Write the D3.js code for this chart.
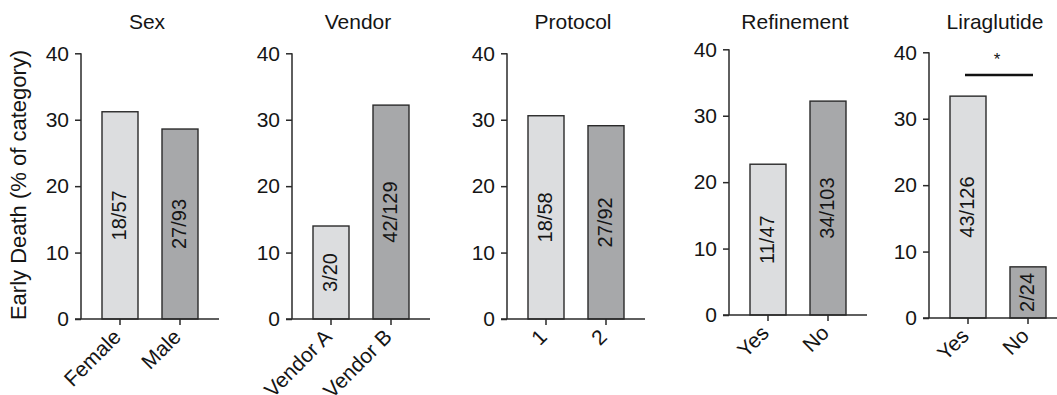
<!DOCTYPE html>
<html>
<head>
<meta charset="utf-8">
<script src="https://cdn.jsdelivr.net/npm/d3@7"></script>
<style>
  html, body { margin: 0; padding: 0; background: #fff; }
  svg { display: block; }
  text { font-family: "Liberation Sans", Arial, Helvetica, sans-serif; fill: #151515; }
</style>
</head>
<body>
<svg id="chart" width="1057" height="395"></svg>
<script>
// ---- data ----
const titles = ["Sex", "Vendor", "Protocol", "Refinement", "Liraglutide"];
const categories = [
  ["Female", "Male"],
  ["Vendor A", "Vendor B"],
  ["1", "2"],
  ["Yes", "No"],
  ["Yes", "No"]
];
const values = [
  [31.2, 28.6],
  [14.0, 32.2],
  [30.6, 29.1],
  [22.7, 32.2],
  [33.4, 7.7]
];
const barLabels = [
  ["18/57", "27/93"],
  ["3/20", "42/129"],
  ["18/58", "27/92"],
  ["11/47", "34/103"],
  ["43/126", "2/24"]
];
const yTicks = [0, 10, 20, 30, 40];
const yLabel = "Early Death (% of category)";
const sigPanel = 4;
const sigLevel = 36.6;
const sigText = "*";

// ---- layout (kept apart from data) ----
const panelLeft = [81, 292, 507, 729, 929];
const panelTop = [53.3, 53.3, 53.3, 49.3, 52.3];
const plotW = 138, plotH = 265.7;
const fills = ["#dcdddf", "#a7a8aa"];
const ink = "#2a2a2a";
const fs = 21;

const svg = d3.select("#chart");

titles.forEach((title, i) => {
  const g = svg.append("g").attr("transform", `translate(${panelLeft[i]},${panelTop[i]})`);
  const x = d3.scaleBand().domain(categories[i]).range([0, plotW]).paddingInner(0.4).paddingOuter(0.35);
  const y = d3.scaleLinear().domain([0, 40]).range([plotH, 0]);

  // bars
  const data = categories[i].map((c, j) => ({ c, v: values[i][j], lab: barLabels[i][j], j }));
  g.selectAll("rect.bar").data(data).enter().append("rect")
    .attr("class", "bar")
    .attr("x", d => x(d.c))
    .attr("y", d => y(d.v))
    .attr("width", x.bandwidth())
    .attr("height", d => y(0) - y(d.v))
    .attr("fill", d => fills[d.j])
    .attr("stroke", ink)
    .attr("stroke-width", 1.4);

  // in-bar labels
  g.selectAll("text.blab").data(data).enter().append("text")
    .attr("class", "blab")
    .attr("transform", d => `translate(${x(d.c) + x.bandwidth() / 2 - 1},${(y(d.v) + y(0)) / 2}) rotate(-90)`)
    .attr("text-anchor", "middle")
    .attr("dy", "0.35em")
    .style("font-size", "20px")
    .text(d => d.lab);

  // y axis
  const ya = d3.axisLeft(y).tickValues(yTicks).tickSize(6).tickPadding(6).tickFormat(d3.format("d"));
  const yg = g.append("g").call(ya);
  yg.select(".domain").attr("stroke", ink).attr("stroke-width", 1.5).attr("d", `M0,${plotH}V0`);
  yg.selectAll(".tick line").attr("stroke", ink).attr("stroke-width", 1.5);
  yg.selectAll(".tick text").style("font-size", fs + "px").attr("fill", "#151515").style("font-family", "Liberation Sans, Arial, sans-serif");

  // x axis
  const xa = d3.axisBottom(x).tickSize(6).tickSizeOuter(0);
  const xg = g.append("g").attr("transform", `translate(0,${plotH})`).call(xa);
  xg.select(".domain").attr("stroke", ink).attr("stroke-width", 1.5).attr("d", `M-6,0H${plotW}`);
  xg.selectAll(".tick line").attr("stroke", ink).attr("stroke-width", 1.5);
  xg.selectAll(".tick text")
    .style("font-size", fs + "px").attr("fill", "#151515").style("font-family", "Liberation Sans, Arial, sans-serif")
    .attr("text-anchor", "end")
    .attr("x", 0).attr("y", 0).attr("dy", "0.35em")
    .attr("transform", "translate(-3,14) rotate(-45)");

  // title
  g.append("text")
    .attr("x", plotW / 2 - 3)
    .attr("y", 29 - panelTop[i])
    .attr("text-anchor", "middle")
    .style("font-size", fs + "px")
    .text(title);

  // significance
  if (i === sigPanel) {
    const x1 = x(categories[i][0]) + x.bandwidth() / 2 - 3;
    const x2 = x(categories[i][1]) + x.bandwidth() / 2 + 5;
    g.append("line")
      .attr("x1", x1).attr("x2", x2)
      .attr("y1", y(sigLevel)).attr("y2", y(sigLevel))
      .attr("stroke", "#111").attr("stroke-width", 2.5);
    g.append("text")
      .attr("x", (x1 + x2) / 2 - 2)
      .attr("y", y(sigLevel) - 10)
      .attr("text-anchor", "middle")
      .style("font-size", "17px")
      .text(sigText);
  }
});

// y-axis label
svg.append("text")
  .attr("transform", "translate(26,185) rotate(-90)")
  .attr("text-anchor", "middle")
  .style("font-size", "22px")
  .text(yLabel);
</script>
</body>
</html>
